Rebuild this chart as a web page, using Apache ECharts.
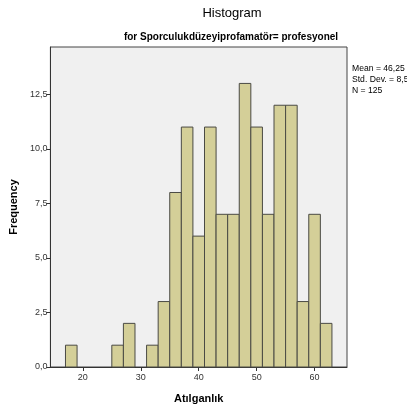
<!DOCTYPE html>
<html>
<head>
<meta charset="utf-8">
<script src="https://cdn.jsdelivr.net/npm/echarts@6/dist/echarts.min.js"></script>
<style>html,body{margin:0;padding:0;background:#fff}#c{width:407px;height:412px}</style>
</head>
<body>
<div id="c"></div>
<script>
var binStarts = [17, 19, 21, 23, 25, 27, 29, 31, 33, 35, 37, 39, 41, 43, 45, 47, 49, 51, 53, 55, 57, 59, 61];
var binWidth = 2;
var counts = [1, 0, 0, 0, 1, 2, 0, 1, 3, 8, 11, 6, 11, 7, 7, 13, 11, 7, 12, 12, 3, 7, 2];
var xTicks = [20, 30, 40, 50, 60];
var yTicks = [0, 2.5, 5, 7.5, 10, 12.5];
var statsLines = ['Mean = 46,25', 'Std. Dev. = 8,51', 'N = 125'];

var data = binStarts.map(function (s, i) { return [s, s + binWidth, counts[i]]; });
var chart = echarts.init(document.getElementById('c'));
chart.setOption({
  animation: false,
  textStyle: { fontFamily: 'Liberation Sans, Arial, sans-serif' },
  title: [
    { text: 'Histogram', left: 227, top: 2, textAlign: 'center',
      textStyle: { fontSize: 13, fontWeight: 500, color: '#000' } },
    { text: 'for Sporculukdüzeyiprofamatör= profesyonel', left: 226, top: 27, textAlign: 'center',
      textStyle: { fontSize: 10, fontWeight: 'bold', color: '#000' } }
  ],
  graphic: [{
    type: 'text', left: 352, top: 63,
    style: { text: statsLines.join('\n'), fontSize: 8.6, lineHeight: 11, fill: '#000',
      fontFamily: 'Liberation Sans, Arial, sans-serif' }
  }],
  grid: { left: 49, right: 60, top: 47, bottom: 45, show: true,
    backgroundColor: '#f0f0f0', borderColor: '#444', borderWidth: 1 },
  xAxis: {
    type: 'value', min: 14.4, max: 65.6,
    name: 'Atılganlık', nameLocation: 'middle', nameGap: 26,
    nameTextStyle: { fontSize: 11, fontWeight: 'bold', color: '#000' },
    axisLine: { show: true, lineStyle: { color: '#333' } },
    axisTick: { show: true, length: 4, customValues: xTicks, lineStyle: { color: '#333' } },
    axisLabel: { customValues: xTicks, fontSize: 9, color: '#333', margin: 6 },
    splitLine: { show: false }
  },
  yAxis: {
    type: 'value', min: 0, max: 14.67,
    name: 'Frequency', nameLocation: 'middle', nameGap: 27,
    nameTextStyle: { fontSize: 11, fontWeight: 'bold', color: '#000' },
    axisLine: { show: true, lineStyle: { color: '#333' } },
    axisTick: { show: true, length: 4, customValues: yTicks, lineStyle: { color: '#333' } },
    axisLabel: { customValues: yTicks, fontSize: 9, color: '#333', margin: 3,
      formatter: function (v) { return v.toFixed(1).replace('.', ','); } },
    splitLine: { show: false }
  },
  series: [{
    type: 'custom',
    data: data,
    encode: { x: [0, 1], y: 2 },
    renderItem: function (params, api) {
      var p0 = api.coord([api.value(0), api.value(2)]);
      var p1 = api.coord([api.value(1), 0]);
      if (api.value(2) === 0) return null;
      return {
        type: 'rect',
        shape: { x: p0[0], y: p0[1], width: p1[0] - p0[0], height: p1[1] - p0[1] },
        style: { fill: '#d4cf98', stroke: '#4a4a44', lineWidth: 1 }
      };
    }
  }]
});
</script>
</body>
</html>
